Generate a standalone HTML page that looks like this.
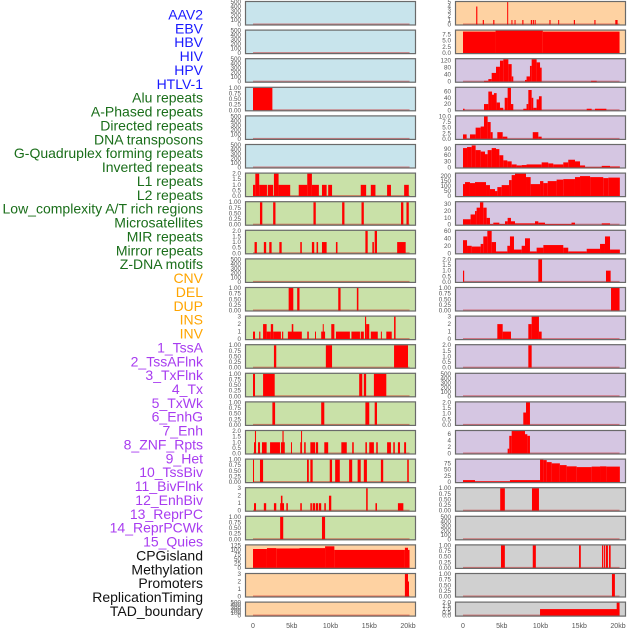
<!DOCTYPE html>
<html><head><meta charset="utf-8"><style>
body{margin:0;background:#fff;}
svg{display:block;font-family:"Liberation Sans",sans-serif;}
</style></head><body>
<svg id="chart" width="630" height="630"></svg>
<script>
// ---------- labels ----------
const labelTexts = ["AAV2","EBV","HBV","HIV","HPV","HTLV-1","Alu repeats","A-Phased repeats","Directed repeats","DNA transposons","G-Quadruplex forming repeats","Inverted repeats","L1 repeats","L2 repeats","Low_complexity A/T rich regions","Microsatellites","MIR repeats","Mirror repeats","Z-DNA motifs","CNV","DEL","DUP","INS","INV","1_TssA","2_TssAFlnk","3_TxFlnk","4_Tx","5_TxWk","6_EnhG","7_Enh","8_ZNF_Rpts","9_Het","10_TssBiv","11_BivFlnk","12_EnhBiv","13_ReprPC","14_ReprPCWk","15_Quies","CPGisland","Methylation","Promoters","ReplicationTiming","TAD_boundary"];
const labelGroups = [6,13,5,15,5];
const groupColors = ["#1a1aff","#1a6e1a","#ffa500","#a83cf0","#111111"];

// ---------- x axis ----------
const xTickValues = [0,5,10,15,20];
const xTickLabels = ["0","5kb","10kb","15kb","20kb"];

// ---------- tick sets ----------
const T500 = [0,100,200,300,400,500];
const T1 = [0,0.25,0.5,0.75,1];
const T2 = [0,0.5,1,1.5,2];
const T3 = [0,1,2,3];

// ---------- left column data [startKb,endKb,value] ----------
const L_Alu = [[0,2.5,1]];
const L_L1 = [[0,0.3,1],[0.3,0.8,2],[0.8,1.8,1],[1.9,2.6,1],[2.7,3.3,2],[3.3,4.8,1],[5.9,7.0,1],[7.0,7.6,2],[7.6,8.5,1],[8.9,9.5,1],[9.7,10.2,1],[13.9,14.6,1],[15.2,15.8,1],[17.3,17.8,1],[19.5,20.1,1]];
const L_L2 = [[0.9,1.2,1],[2.6,2.9,1],[7.8,8.1,1],[11.5,11.8,1],[14.0,14.3,1],[19.1,19.4,1],[19.8,20.1,1]];
const L_MIR = [[0.2,0.5,1],[1.4,1.7,1],[2.1,2.4,1],[3.4,3.7,1],[6.1,6.3,1],[7.6,7.9,1],[8.2,8.4,1],[8.9,9.5,1],[10.7,10.9,1],[14.5,14.8,2],[15.4,15.6,1],[15.7,16.0,2],[18.6,19.7,1]];
const L_CNV = [[4.6,5.2,1],[5.7,6.0,1],[11.0,11.3,1],[13.4,13.6,1]];
const L_DEL = [[0,0.26,1],[0.8,0.95,1],[1.3,1.76,2],[1.76,2.3,1],[2.3,2.6,2],[2.6,3.6,1],[3.75,3.9,1],[4.5,6.3,1],[5.0,5.2,2],[7.0,7.2,1],[8.0,8.1,1],[8.8,9.3,1],[9.0,9.1,2],[10.1,10.5,2],[10.7,12.5,1],[12.7,13.8,1],[13.9,14.3,1],[14.45,14.6,3],[14.6,15.0,2],[15.2,16.1,1],[16.5,16.6,1],[17.2,17.9,1],[18.2,18.4,3]];
const L_INS = [[2.7,3.0,1],[9.4,10.2,1],[18.2,20.0,1]];
const L_INV = [[0,0.26,1],[1.3,2.8,1],[13.7,14.1,1],[14.3,14.6,1],[15.6,17.2,1]];
const L_TssA = [[2.5,2.85,1],[8.8,9.2,1],[14.5,15.0,1],[15.7,16.0,1]];
const L_TssAFlnk = [[0.13,0.39,1],[0.25,0.39,2],[0.65,0.9,1],[1.16,1.76,1],[2.2,3.48,1],[3.6,4.1,1],[3.8,3.95,2],[4.9,5.0,1],[6.1,6.3,1],[6.2,6.3,2],[6.6,6.8,1],[7.4,8.0,1],[8.1,8.4,1],[9.2,9.7,1],[11.4,12.1,1],[12.8,13.0,1],[14.5,14.7,1],[15.0,15.6,1],[15.9,16.1,1],[17.3,17.8,1],[18.1,18.3,1],[18.7,18.97,1],[19.5,19.75,1]];
const L_TxFlnk = [[0,0.13,1],[0.9,1.3,1],[6.97,7.2,1],[7.4,7.7,1],[9.9,10.2,1],[10.6,11.2,1],[12.4,12.8,1],[13.5,13.9,1],[14.3,14.7,1],[16.5,16.8,1],[19.9,20.1,1]];
const L_Tx = [[0.13,0.39,1],[1.4,1.7,1],[2.7,3.0,1],[3.5,4.0,1],[3.6,3.8,2],[4.3,4.5,1],[6.1,6.3,1],[7.4,7.6,1],[7.7,8.0,1],[8.1,8.4,1],[8.5,8.8,1],[9.2,9.4,1],[9.8,10.1,2],[14.6,14.8,3],[15.8,16.0,1],[18.7,19.4,1]];
const L_TxWk = [[3.5,3.9,1],[8.9,9.3,1]];
const L_EnhG = [[0,1.8,105],[1.8,3.0,110],[3.0,6.0,108],[6.0,9.3,110],[9.3,10.5,120],[10.5,19.6,100],[19.6,20.0,112],[20.0,20.2,100]];
const L_Enh = [[19.6,20.0,3],[20.0,20.1,2]];

// ---------- right column data ----------
const R_AAV2 = [[1.7,1.85,4],[2.55,2.7,1],[3.9,4.05,1],[5.7,5.82,5],[6.25,6.38,1],[6.65,6.78,1],[7.65,7.8,1],[8.75,8.9,1],[9.0,9.15,1],[9.25,9.38,1],[11.15,11.3,1],[12.28,12.4,1],[14.3,14.45,1],[16.95,17.1,1],[19.65,19.95,1]];
const R_EBV = [[0,4.2,8.6],[4.2,10.3,9.0],[10.3,20.2,8.6]];
const R_HIV = [[2.71,3.27,5],[3.27,3.7,15],[3.7,4.26,50],[4.26,4.77,85],[4.77,5.2,120],[5.2,5.85,128],[5.85,6.28,100],[6.28,6.49,30],[8.0,8.2,10],[8.2,8.64,30],[8.64,8.86,90],[8.86,9.5,128],[9.5,9.94,110],[9.94,10.15,80],[16.52,17.25,5]];
const R_HPV = [[0,0.2,5],[2.71,3.27,20],[3.27,3.74,60],[3.74,4.0,50],[4.0,4.34,55],[4.34,4.77,25],[4.77,5.2,8],[5.38,5.76,40],[5.76,6.19,72],[6.19,6.49,20],[7.78,8.2,5],[8.2,8.43,20],[8.43,8.86,65],[8.86,9.07,40],[9.07,9.5,8],[9.5,9.8,35],[9.8,10.15,45],[15.96,16.6,5],[17.03,18.5,5]];
const R_HTLV = [[0,0.47,2],[0.9,1.63,2],[1.63,2.28,5],[2.28,2.71,5.5],[2.71,3.18,10],[3.18,3.57,7.5],[3.57,3.83,3],[4.43,5.12,3],[5.12,5.72,1],[9.0,9.72,3],[9.72,10.15,1]];
const R_Inv = [[0,0.52,95],[0.52,1.12,100],[1.12,1.63,108],[1.63,2.28,85],[2.28,2.84,78],[2.84,3.18,65],[3.18,3.7,85],[3.7,4.26,95],[4.26,4.69,90],[4.69,5.2,60],[5.2,5.72,35],[5.72,6.28,30],[6.28,6.92,15],[6.92,7.57,10],[7.57,8.2,12],[8.2,10.15,15],[10.15,11.0,25],[11.0,11.65,20],[11.65,12.94,15],[12.94,13.58,25],[13.58,14.45,38],[14.45,15.1,30],[15.1,15.75,10],[15.75,17.9,2],[17.9,18.97,8],[18.97,20.24,5]];
const R_L1 = [[0,0.26,120],[0.26,0.9,140],[0.9,1.55,130],[1.55,2.97,140],[2.97,3.48,110],[3.48,4.13,70],[4.13,4.43,50],[4.43,4.99,90],[4.99,5.94,110],[5.94,6.28,160],[6.28,6.71,210],[6.71,8.13,225],[8.13,8.73,190],[8.73,9.94,120],[9.94,10.37,150],[10.37,10.93,130],[10.93,12.08,150],[12.08,12.94,165],[12.94,14.45,170],[14.45,15.1,190],[15.1,16.4,200],[16.4,18.1,190],[18.1,18.75,180],[18.75,20.24,185]];
const R_L2 = [[0,0.98,8],[0.98,1.55,15],[1.55,1.76,20],[1.76,2.19,25],[2.19,2.62,33],[2.62,3.05,25],[3.05,3.48,10],[3.48,3.91,1],[3.91,4.69,3],[4.69,5.42,1],[5.42,5.76,5],[5.76,6.19,10],[6.19,6.71,5],[6.71,9.29,2],[9.29,9.72,5],[9.72,10.58,3],[10.58,14.0,1],[14.0,14.45,3],[17.9,18.97,2]];
const R_MIR = [[0,0.52,35],[0.52,1.12,20],[1.12,2.28,18],[2.28,2.62,25],[2.62,3.14,45],[3.14,3.7,60],[3.7,4.26,30],[4.26,5.72,5],[5.72,6.06,20],[6.06,6.58,45],[6.58,7.57,10],[7.57,8.0,20],[8.0,8.64,40],[8.64,9.5,5],[9.5,10.37,15],[10.37,12.94,22],[12.94,13.58,15],[13.58,15.96,5],[15.96,17.68,12],[17.68,18.32,25],[18.32,18.97,45],[18.97,20.24,10]];
const R_CNV = [[0,0.15,1],[9.72,10.2,2],[18.45,19.05,1]];
const R_DEL = [[19.1,20.2,1]];
const R_DUP = [[4.43,5.12,2],[5.12,6.19,1],[8.43,8.86,2],[8.86,9.8,3],[9.8,10.15,1]];
const R_INS = [[8.43,8.86,2]];
const R_TssA = [[7.78,8.13,1.1],[8.13,8.64,2]];
const R_TssAFlnk = [[5.76,5.97,1.5],[5.97,6.28,5.5],[6.28,8.0,7],[8.0,8.3,6],[8.3,8.64,5.5]];
const R_TxFlnk = [[0,1.55,8],[1.55,6.06,3],[6.06,9.94,8],[9.94,10.37,90],[10.37,10.8,88],[10.8,11.44,80],[11.44,12.5,75],[12.5,13.37,68],[13.37,14.67,63],[14.67,16.6,60],[16.6,17.68,62],[17.68,18.5,63],[18.5,20.24,62]];
const R_Tx = [[4.8,5.4,1],[8.9,9.8,1]];
const R_EnhG = [[4.9,5.4,1],[9.0,9.4,1],[14.97,15.2,1],[17.94,18.1,1],[18.2,18.35,1],[18.45,18.7,1],[18.84,19.05,1]];
const R_Enh = [[19.22,19.6,1]];
const R_ZNF = [[9.94,20.2,1],[19.83,20.2,2]];

// ---------- panel configs: [data, ticks, ymax, bg] ----------
const BLUE="#c8e4ec", GREEN="#c9e1a8", ORANGE="#fed2a2", PURPLE="#d5c6e2", GRAY="#d0d0d0";
const leftPanels = [
 [[],T500,500,BLUE],[[],T500,500,BLUE],[[],T500,500,BLUE],[L_Alu,T1,1,BLUE],[[],T500,500,BLUE],[[],T500,500,BLUE],
 [L_L1,T2,2,GREEN],[L_L2,T1,1,GREEN],[L_MIR,T2,2,GREEN],[[],T500,500,GREEN],[L_CNV,T1,1,GREEN],[L_DEL,T3,3,GREEN],
 [L_INS,T1,1,GREEN],[L_INV,T1,1,GREEN],[L_TssA,T1,1,GREEN],[L_TssAFlnk,T2,2,GREEN],[L_TxFlnk,T1,1,GREEN],[L_Tx,T3,3,GREEN],
 [L_TxWk,T1,1,GREEN],[L_EnhG,[0,25,50,75,100,125],125,ORANGE],[L_Enh,T3,3,ORANGE],[[],T500,500,ORANGE]
];
const rightPanels = [
 [R_AAV2,[0,1,2,3,4,5],5,ORANGE],[R_EBV,[0,2.5,5,7.5],9,ORANGE],[R_HIV,[0,40,80,120],128,PURPLE],[R_HPV,[0,20,40,60],72,PURPLE],
 [R_HTLV,[0,2.5,5,7.5,10],10,PURPLE],[R_Inv,[0,30,60,90],110,PURPLE],[R_L1,[0,50,100,150,200],225,PURPLE],[R_L2,[0,10,20,30],33,PURPLE],
 [R_MIR,[0,20,40,60],60,PURPLE],[R_CNV,T2,2,PURPLE],[R_DEL,T1,1,PURPLE],[R_DUP,T3,3,PURPLE],[R_INS,T2,2,PURPLE],[[],T500,500,PURPLE],
 [R_TssA,T2,2,PURPLE],[R_TssAFlnk,[0,2,4,6],7,PURPLE],[R_TxFlnk,[0,25,50,75],90,PURPLE],[R_Tx,T1,1,GRAY],[[],T500,500,GRAY],
 [R_EnhG,T1,1,GRAY],[R_Enh,T1,1,GRAY],[R_ZNF,T2,2,GRAY]
];

// ---------- drawing ----------
const NS="http://www.w3.org/2000/svg";
const svg=document.getElementById('chart');
function mk(tag,attrs,parent){const e=document.createElementNS(NS,tag);for(const k in attrs)e.setAttribute(k,attrs[k]);(parent||svg).appendChild(e);return e;}

// labels
let li=0;
labelGroups.forEach((n,g)=>{for(let k=0;k<n;k++){
  const t=mk('text',{x:203,y:(19.5+li*13.87).toFixed(1),'text-anchor':'end','font-size':'14',fill:groupColors[g]});
  
  
  t.textContent=labelTexts[li];li++;}});

function fmt(v,ticks){const dec=ticks.some(t=>Math.abs(t*100%100)>0&&Math.abs(t*100%50)>0)?2:(ticks.some(t=>t%1!==0)?1:0);return v.toFixed(dec);}

function drawPanel(cfg,i,x0,x1,zeroX,side){
  const [data,ticks,ymax,bg]=cfg;
  const top=1+28.6*i, h=(i===21)?15:24.5, bot=top+h;
  const g=mk('g',{});
  
  
  const bgR=mk('rect',{x:x0,y:top,width:x1-x0,height:h,fill:bg},g);
  
  
  const y0=bot-1, ph=h-2;
  const xs=kb=>zeroX+kb*7.75;
  const ys=v=>y0-(v/ymax)*ph;
  // baseline
  const bl=mk('rect',{x:xs(0),y:y0-1,width:xs(20.2)-xs(0),height:1.5,fill:'rgba(200,0,0,0.45)'},g);
  
  
  data.forEach(d=>{
    const yt=Math.max(ys(d[2]),top+0.5);
    const r=mk('rect',{x:xs(d[0]).toFixed(2),y:yt.toFixed(2),width:Math.max(xs(d[1])-xs(d[0]),1).toFixed(2),height:(y0-yt).toFixed(2),fill:'#ff0000'},g);
    
    
  });
  const br=mk('rect',{x:x0+0.5,y:top+0.5,width:x1-x0-1,height:h-1,fill:'none',stroke:'#6a6a6a','stroke-width':1.2},g);
  
  
  ticks.forEach(t=>{
    const tt=mk('text',{x:x0-4,y:(ys(t)+2).toFixed(1),'text-anchor':'end','font-size':'6.3',fill:'#555'},g);
    
    
    tt.textContent=fmt(t,ticks);
  });
}
leftPanels.forEach((c,i)=>drawPanel(c,i,245,416,253,'left'));
rightPanels.forEach((c,i)=>drawPanel(c,i,455,626,463,'right'));

// x axis labels
[253,463].forEach((zx,ci)=>{
  xTickValues.forEach((v,k)=>{
    const t=mk('text',{x:(zx+v*7.75).toFixed(1),y:628,'text-anchor':'middle','font-size':'7',fill:'#555'});
    
    
    t.textContent=xTickLabels[k];
  });
});
</script>
</body></html>
